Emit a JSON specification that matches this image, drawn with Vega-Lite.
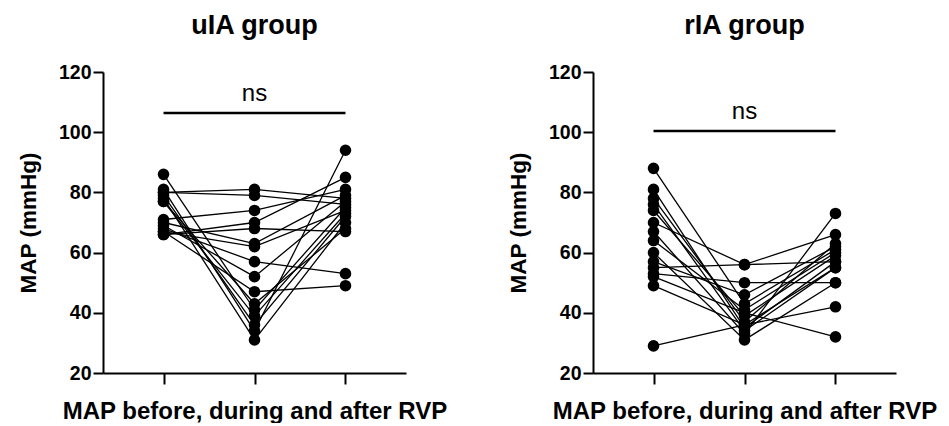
{
  "$schema": "https://vega.github.io/schema/vega-lite/v6.json",
  "background": "white",
  "padding": {"left": 17, "top": 12, "right": 5, "bottom": 0},
  "config": {
    "font": "Liberation Sans",
    "view": {"stroke": null},
    "axis": {"grid": false, "domainColor": "black", "domainWidth": 2, "tickColor": "black", "tickWidth": 2, "labelColor": "black", "titleColor": "black", "labelFont": "Liberation Sans", "titleFont": "Liberation Sans"},
    "concat": {"spacing": 187}
  },
  "datasets": {
    "uia": [
      {"s":1,"t":1,"v":86},{"s":1,"t":2,"v":41},{"s":1,"t":3,"v":75},
      {"s":2,"t":1,"v":81},{"s":2,"t":2,"v":34},{"s":2,"t":3,"v":94},
      {"s":3,"t":1,"v":80},{"s":3,"t":2,"v":81},{"s":3,"t":3,"v":78},
      {"s":4,"t":1,"v":80},{"s":4,"t":2,"v":79},{"s":4,"t":3,"v":76},
      {"s":5,"t":1,"v":79},{"s":5,"t":2,"v":36},{"s":5,"t":3,"v":72},
      {"s":6,"t":1,"v":78},{"s":6,"t":2,"v":31},{"s":6,"t":3,"v":70},
      {"s":7,"t":1,"v":77},{"s":7,"t":2,"v":39},{"s":7,"t":3,"v":73},
      {"s":8,"t":1,"v":77},{"s":8,"t":2,"v":43},{"s":8,"t":3,"v":68},
      {"s":9,"t":1,"v":71},{"s":9,"t":2,"v":74},{"s":9,"t":3,"v":81},
      {"s":10,"t":1,"v":70},{"s":10,"t":2,"v":63},{"s":10,"t":3,"v":79},
      {"s":11,"t":1,"v":69},{"s":11,"t":2,"v":52},{"s":11,"t":3,"v":77},
      {"s":12,"t":1,"v":68},{"s":12,"t":2,"v":57},{"s":12,"t":3,"v":53},
      {"s":13,"t":1,"v":67},{"s":13,"t":2,"v":62},{"s":13,"t":3,"v":74},
      {"s":14,"t":1,"v":67},{"s":14,"t":2,"v":47},{"s":14,"t":3,"v":49},
      {"s":15,"t":1,"v":66},{"s":15,"t":2,"v":70},{"s":15,"t":3,"v":85},
      {"s":16,"t":1,"v":66},{"s":16,"t":2,"v":68},{"s":16,"t":3,"v":67}
    ],
    "ria": [
      {"s":1,"t":1,"v":88},{"s":1,"t":2,"v":43},{"s":1,"t":3,"v":61},
      {"s":2,"t":1,"v":81},{"s":2,"t":2,"v":35},{"s":2,"t":3,"v":57},
      {"s":3,"t":1,"v":78},{"s":3,"t":2,"v":37},{"s":3,"t":3,"v":63},
      {"s":4,"t":1,"v":76},{"s":4,"t":2,"v":34},{"s":4,"t":3,"v":55},
      {"s":5,"t":1,"v":74},{"s":5,"t":2,"v":39},{"s":5,"t":3,"v":59},
      {"s":6,"t":1,"v":70},{"s":6,"t":2,"v":56},{"s":6,"t":3,"v":66},
      {"s":7,"t":1,"v":67},{"s":7,"t":2,"v":33},{"s":7,"t":3,"v":73},
      {"s":8,"t":1,"v":64},{"s":8,"t":2,"v":41},{"s":8,"t":3,"v":60},
      {"s":9,"t":1,"v":60},{"s":9,"t":2,"v":31},{"s":9,"t":3,"v":50},
      {"s":10,"t":1,"v":57},{"s":10,"t":2,"v":46},{"s":10,"t":3,"v":62},
      {"s":11,"t":1,"v":55},{"s":11,"t":2,"v":56},{"s":11,"t":3,"v":57},
      {"s":12,"t":1,"v":53},{"s":12,"t":2,"v":50},{"s":12,"t":3,"v":50},
      {"s":13,"t":1,"v":52},{"s":13,"t":2,"v":40},{"s":13,"t":3,"v":32},
      {"s":14,"t":1,"v":49},{"s":14,"t":2,"v":36},{"s":14,"t":3,"v":42},
      {"s":15,"t":1,"v":29},{"s":15,"t":2,"v":36},{"s":15,"t":3,"v":55}
    ],
    "ann_uia": [{"x":1,"x2":3,"y":106.4,"ty":110.4,"tx":2,"label":"ns"}],
    "ann_ria": [{"x":1,"x2":3,"y":100.4,"ty":104.4,"tx":2,"label":"ns"}]
  },
  "hconcat": [
    {
      "width": 303, "height": 301,
      "title": {"text": "uIA group", "fontSize": 27, "fontWeight": "bold", "color": "black", "offset": 22},
      "encoding": {
        "x": {"type": "quantitative", "scale": {"domain": [0.335, 3.665], "nice": false, "zero": false},
              "axis": {"values": [1,2,3], "labels": false, "tickSize": 11, "title": "MAP before, during and after RVP", "titleFontSize": 24, "titleFontWeight": "bold", "titlePadding": 14}},
        "y": {"type": "quantitative", "scale": {"domain": [20, 120], "nice": false, "zero": false},
              "axis": {"values": [20,40,60,80,100,120], "tickSize": 10, "labelFontSize": 19.5, "labelFontWeight": "bold", "labelPadding": 2, "title": "MAP (mmHg)", "titleFontSize": 22.5, "titleFontWeight": "bold", "titlePadding": 18}}
      },
      "layer": [
        {"data": {"name": "uia"}, "mark": {"type": "line", "color": "black", "strokeWidth": 1.3},
         "encoding": {"x": {"field": "t"}, "y": {"field": "v"}, "detail": {"field": "s", "type": "nominal"}, "order": {"field": "t"}}},
        {"data": {"name": "uia"}, "mark": {"type": "circle", "color": "black", "opacity": 1, "size": 135},
         "encoding": {"x": {"field": "t"}, "y": {"field": "v"}}},
        {"data": {"name": "ann_uia"}, "mark": {"type": "rule", "color": "black", "strokeWidth": 2.5},
         "encoding": {"x": {"field": "x"}, "x2": {"field": "x2"}, "y": {"field": "y"}}},
        {"data": {"name": "ann_uia"}, "mark": {"type": "text", "color": "black", "fontSize": 24, "baseline": "alphabetic"},
         "encoding": {"x": {"field": "tx"}, "y": {"field": "ty"}, "text": {"field": "label"}}}
      ]
    },
    {
      "width": 303, "height": 301,
      "title": {"text": "rIA group", "fontSize": 27, "fontWeight": "bold", "color": "black", "offset": 22},
      "encoding": {
        "x": {"type": "quantitative", "scale": {"domain": [0.335, 3.665], "nice": false, "zero": false},
              "axis": {"values": [1,2,3], "labels": false, "tickSize": 11, "title": "MAP before, during and after RVP", "titleFontSize": 24, "titleFontWeight": "bold", "titlePadding": 14}},
        "y": {"type": "quantitative", "scale": {"domain": [20, 120], "nice": false, "zero": false},
              "axis": {"values": [20,40,60,80,100,120], "tickSize": 10, "labelFontSize": 19.5, "labelFontWeight": "bold", "labelPadding": 2, "title": "MAP (mmHg)", "titleFontSize": 22.5, "titleFontWeight": "bold", "titlePadding": 18}}
      },
      "layer": [
        {"data": {"name": "ria"}, "mark": {"type": "line", "color": "black", "strokeWidth": 1.3},
         "encoding": {"x": {"field": "t"}, "y": {"field": "v"}, "detail": {"field": "s", "type": "nominal"}, "order": {"field": "t"}}},
        {"data": {"name": "ria"}, "mark": {"type": "circle", "color": "black", "opacity": 1, "size": 135},
         "encoding": {"x": {"field": "t"}, "y": {"field": "v"}}},
        {"data": {"name": "ann_ria"}, "mark": {"type": "rule", "color": "black", "strokeWidth": 2.5},
         "encoding": {"x": {"field": "x"}, "x2": {"field": "x2"}, "y": {"field": "y"}}},
        {"data": {"name": "ann_ria"}, "mark": {"type": "text", "color": "black", "fontSize": 24, "baseline": "alphabetic"},
         "encoding": {"x": {"field": "tx"}, "y": {"field": "ty"}, "text": {"field": "label"}}}
      ]
    }
  ],
  "resolve": {"scale": {"x": "independent", "y": "independent"}},
  "bounds": "flush"
}
